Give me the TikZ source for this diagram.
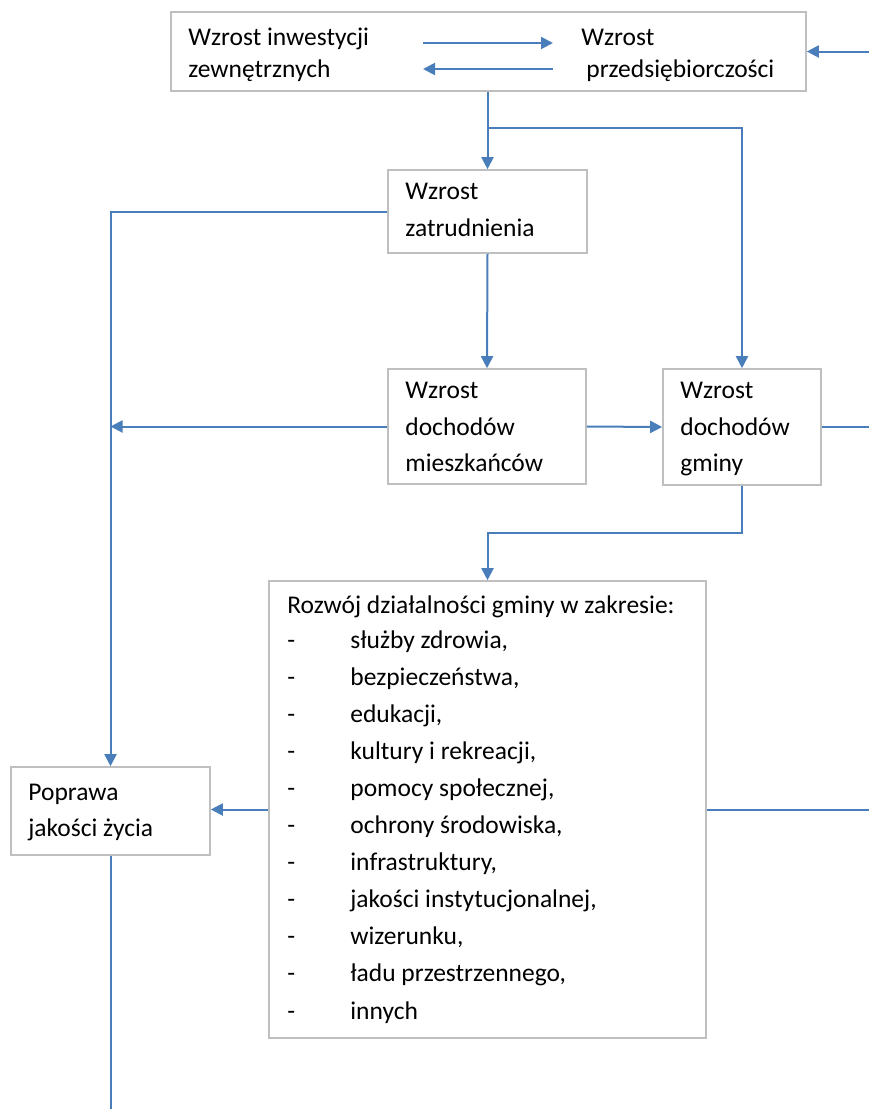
\documentclass[tikz,border=0pt]{standalone}
\usepackage{fontspec}
\setmainfont{Carlito}
\usetikzlibrary{arrows.meta}
\definecolor{conn}{HTML}{4A7EBB}
\definecolor{boxline}{HTML}{BFBFBF}
\begin{document}
\begin{tikzpicture}[x=0.5pt,y=-0.5pt,
  font=\fontsize{12.75}{18.5}\selectfont,
  box/.style={draw=boxline,line width=0.8pt,fill=white,inner sep=0pt},
  txt/.style={anchor=base west,inner sep=0pt},
  conline/.style={draw=conn,line width=1pt},
  arr/.style={conline,-{Triangle[length=6pt,width=6pt]}}]
\useasboundingbox (0,0) rectangle (869,1109);
\coordinate (edgeR) at (869,0);
\coordinate (edgeB) at (0,1109);
% boxes
\node[box,minimum width=317.5pt,minimum height=39.5pt] (top) at (488.5,51.5) {};
\node[box,minimum width=99.5pt,minimum height=41.5pt] (zat) at (487.5,211.5) {};
\node[box,minimum width=99pt,minimum height=57.5pt] (mie) at (487,426.5) {};
\node[box,minimum width=79pt,minimum height=58pt] (gmi) at (742,427) {};
\node[box,minimum width=218.5pt,minimum height=228.5pt] (roz) at (487.5,809.5) {};
\node[box,minimum width=99.5pt,minimum height=44pt] (pop) at (110.5,811) {};
% texts
\node[txt] (t1) at (188,45) {Wzrost inwestycji};
\node[txt] (t2) at (188,77) {zewnętrznych};
\node[txt] (t3) at (581,45) {Wzrost};
\node[txt] (t4) at (586,77) {przedsiębiorczości};
\node[txt] (z1) at (405,199) {Wzrost};
\node[txt] (z2) at (405,236) {zatrudnienia};
\node[txt] (m1) at (405,398) {Wzrost};
\node[txt] (m2) at (405,435) {dochodów};
\node[txt] (m3) at (405,471) {mieszkańców};
\node[txt] (g1) at (680,398) {Wzrost};
\node[txt] (g2) at (680,435) {dochodów};
\node[txt] (g3) at (680,471) {gminy};
\node[txt] (p1) at (28,800) {Poprawa};
\node[txt] (p2) at (28,836) {jakości życia};
\node[txt] (r0) at (287,613) {Rozwój działalności gminy w zakresie:};
\foreach \t [count=\i from 0] in {{służby zdrowia,},{bezpieczeństwa,},{edukacji,},{kultury i rekreacji,},{pomocy społecznej,},{ochrony środowiska,},{infrastruktury,},{jakości instytucjonalnej,},{wizerunku,},{ładu przestrzennego,},{innych}}{
  \node[txt] (rd\i) at (287,648+37.1*\i) {-};
  \node[txt] (ri\i) at (350,648+37.1*\i) {\t};
}
% arrows inside top box
\coordinate (a1) at (423,43);
\coordinate (a2) at (553,43);
\coordinate (b1) at (553,69);
\coordinate (b2) at (423,69);
\draw[arr] (a1) -- (a2);
\draw[arr] (b1) -- (b2);
% connectors
\coordinate (inR) at (869,51.5);
\draw[arr] (inR) -- (top.east);
\coordinate (split) at (487.5,128);
\draw[conline] (split |- top.south) -- (split);
\draw[arr] (split) -- (zat.north);
\draw[arr] (split) -| (gmi.north);
\draw[arr] (zat.west) -| (pop.north);
\draw[arr] (zat.south) -- (mie.north);
\draw[arr] (mie.west) -- (mie.west -| pop.north);
\draw[arr] (mie.east) -- (gmi.west);
\draw[conline] (gmi.east) -- (gmi.east -| edgeR);
\coordinate (gbend) at (742,533);
\draw[arr] (gmi.south) -- (gbend) -| (roz.north);
\draw[arr] (roz.west) -- (roz.west -| pop.east);
\draw[conline] (roz.east) -- (roz.east -| edgeR);
\draw[conline] (pop.south) -- (pop.south |- edgeB);
\end{tikzpicture}
\end{document}
